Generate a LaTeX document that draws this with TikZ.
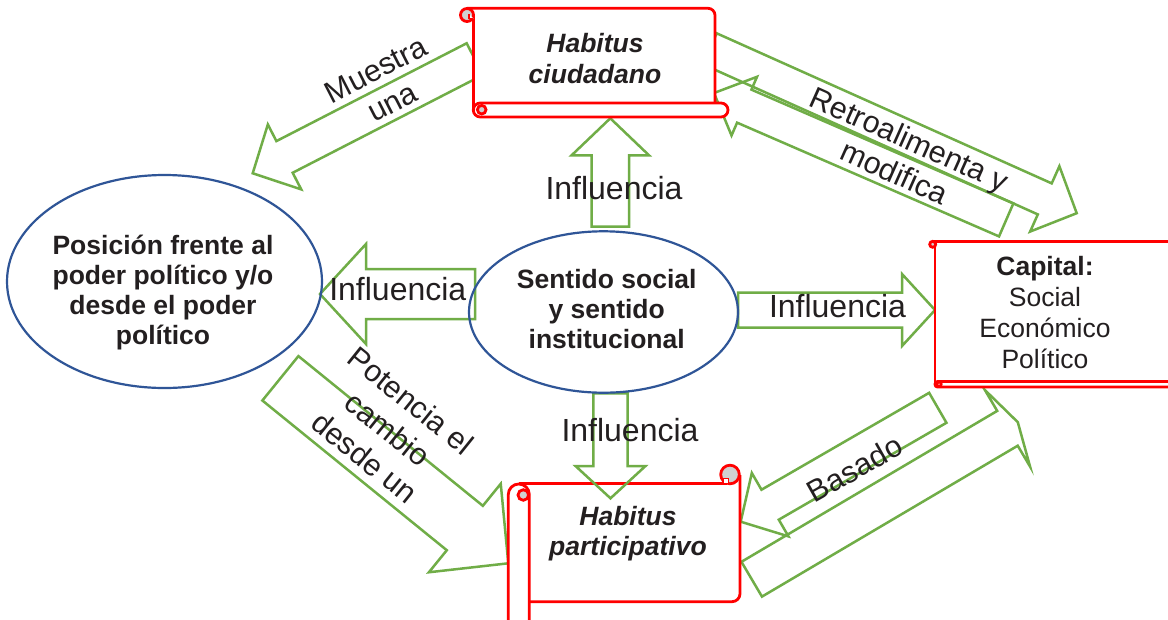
\documentclass[tikz,border=0pt]{standalone}
\usepackage{fontspec}
\setmainfont{Liberation Sans}
\usetikzlibrary{calc,shapes.geometric}
\definecolor{agreen}{HTML}{70AD47}
\definecolor{sred}{HTML}{FF0000}
\definecolor{eblue}{HTML}{2F5597}
\definecolor{cgray}{HTML}{D0D0D0}
\definecolor{tcol}{HTML}{231F20}
% #1 tail, #2 tip, #3 half shaft, #4 half head, #5 head length
\newcommand\blockarrow[5]{%
  \coordinate (ab) at ($(#2)!#5!(#1)$);
  \draw[arrowline] ($(#1)!#3!90:(#2)$) -- ($(ab)!#3!90:(#2)$) -- ($(ab)!#4!90:(#2)$) -- (#2)
    -- ($(ab)!#4!-90:(#2)$) -- ($(ab)!#3!-90:(#2)$) -- ($(#1)!#3!-90:(#2)$) -- cycle;}
\begin{document}
\begin{tikzpicture}[x=1pt,y=-1pt,
  arrowline/.style={draw=agreen, line width=2.5pt},
  scrollline/.style={draw=sred, line width=2.8pt},
  ell/.style={ellipse, draw=eblue, line width=2.2pt, inner sep=0pt, outer sep=0pt},
  boldtxt/.style={font=\fontsize{26.5}{30}\selectfont\bfseries, text=tcol, align=center, inner sep=0pt},
  boldit/.style={font=\fontsize{26.5}{30.5}\selectfont\bfseries\itshape, text=tcol, align=center, inner sep=0pt},
  regtxt/.style={font=\fontsize{26.5}{30.8}\selectfont, text=tcol, align=center, inner sep=0pt},
  lbl/.style={font=\fontsize{32}{37}\selectfont, text=tcol, align=center, inner sep=0pt},
  rlbl/.style={font=\fontsize{30.5}{36.5}\selectfont, text=tcol, align=center, inner sep=0pt}]
\useasboundingbox (0,0) rectangle (1168,619);
\fill[white] (0,0) rectangle (1168,619);

% arrow end points
\coordinate (muT) at (474.8,59.1);   \coordinate (muH) at (252.7,173.3);
\coordinate (reT) at (709.7,48.8);   \coordinate (reH) at (1076.7,213.2);
\coordinate (moT) at (1006.2,219.9); \coordinate (moH) at (714,93);
\coordinate (irT) at (738,310);      \coordinate (irH) at (935,310);
\coordinate (poT) at (280.4,378.3);  \coordinate (poH) at (508.3,563.3);
\coordinate (baT) at (937.8,407.8);  \coordinate (baH) at (740.7,521.7);
\coordinate (bgT) at (751.7,579.2);  \coordinate (bgH) at (1017.8,422.2);
\coordinate (ilT) at (475,294);      \coordinate (ilH) at (320,294);
\coordinate (iuT) at (610.3,226.7);  \coordinate (iuH) at (610.3,118.3);
\coordinate (idT) at (610.5,393.3);  \coordinate (idH) at (610.5,498.3);

\blockarrow{muT}{muH}{17.8pt}{36.5pt}{35.8pt}
\blockarrow{reT}{reH}{17pt}{35.8pt}{35pt}
\blockarrow{moT}{moH}{18pt}{32pt}{33pt}
\blockarrow{irT}{irH}{17.5pt}{36pt}{33pt}
\blockarrow{poT}{poH}{28.6pt}{57pt}{56pt}
\blockarrow{baT}{baH}{17.3pt}{36.6pt}{34pt}
\blockarrow{bgT}{bgH}{20.2pt}{44.5pt}{12pt}
\blockarrow{ilT}{ilH}{25pt}{50pt}{46pt}
\blockarrow{iuT}{iuH}{18.7pt}{38.7pt}{37pt}

% top scroll
\fill[white] (473.3,8.3) rectangle (715,110);
\draw[scrollline, rounded corners=7] (467,8.3) -- (715,8.3) -- (715,104);
\draw[scrollline, fill=white, rounded corners=7] (473.3,103) rectangle (728,117);
\draw[scrollline] (473.3,15) -- (473.3,110);
\draw[scrollline, fill=cgray] (481.7,109.7) circle (4.3);
\draw[scrollline, fill=cgray] (467,15) circle (6.5);
\draw[draw=sred, line width=1.5pt, fill=white] (469,14) -- (469,18.5) -- (473.3,18.5);

% capital scroll
\fill[white] (935,241.7) rectangle (1180,384);
\draw[scrollline] (932,241.7) -- (1180,241.7);
\draw[scrollline] (935,244) -- (935,385);
\draw[scrollline, fill=white, rounded corners=2.5] (935,381.5) rectangle (1180,387);
\draw[scrollline, fill=cgray] (932.7,244.3) circle (3);
\draw[scrollline, fill=white] (939,384.2) circle (2.2);

% bottom scroll
\fill[white] (519,483.3) rectangle (740,601.7);
\draw[scrollline, rounded corners=8] (740,475) -- (740,601.7) -- (526,601.7);
\draw[scrollline] (519,483.3) -- (727,483.3);
\draw[scrollline, fill=white, rounded corners=10.5] (508.3,640) -- (508.3,484) -- (529.3,484) -- (529.3,640);
\draw[scrollline, fill=cgray] (523.3,495) circle (5.3);
\draw[scrollline, fill=cgray] (730,474.5) circle (9.3);
\draw[draw=sred, line width=1.5pt, fill=white] (723.3,483.3) -- (723.3,478.3) -- (728.3,478.3) -- (728.3,483.3);

% arrow over the bottom scroll
\blockarrow{idT}{idH}{17.2pt}{35pt}{32.3pt}

% ellipses
\node[ell, minimum width=315pt, minimum height=213pt] (pos) at (164.5,281.5) {};
\node[ell, minimum width=269pt, minimum height=161.4pt] (sen) at (603.5,312) {};

% texts
\node[boldtxt] (posT) at (163,293) {Posición frente al\\poder político y/o\\desde el poder\\político};
\node[boldtxt] (senT) at (606.7,308.7) {Sentido social\\y sentido\\institucional};
\node[boldit] (hc) at (595,58.7) {Habitus\\ciudadano};
\node[boldit] (hp) at (628,533.6) {Habitus\\participativo};
\node[regtxt] (cap) at (1045,312.5) {\textbf{Capital:}\\Social\\Económico\\Político};

\node[lbl] (lu) at (614,188.3) {Influencia};
\node[lbl] (ld) at (630,430.5) {Influencia};
\node[lbl] (ll) at (397.8,289.2) {Influencia};
\node[lbl] (lr) at (837.5,306) {Influencia};
\node[rlbl, rotate=27.2] (lmu) at (384.2,85.9) {Muestra\\una};
\node[rlbl, rotate=-24.1] (lre) at (902,155.5) {Retroalimenta y\\modifica};
\node[rlbl, rotate=-38.8] (lpo) at (388,429) {Potencia el\\cambio\\desde un};
\node[rlbl, rotate=29.4] (lba) at (854.5,468.5) {Basado};
\end{tikzpicture}
\end{document}
